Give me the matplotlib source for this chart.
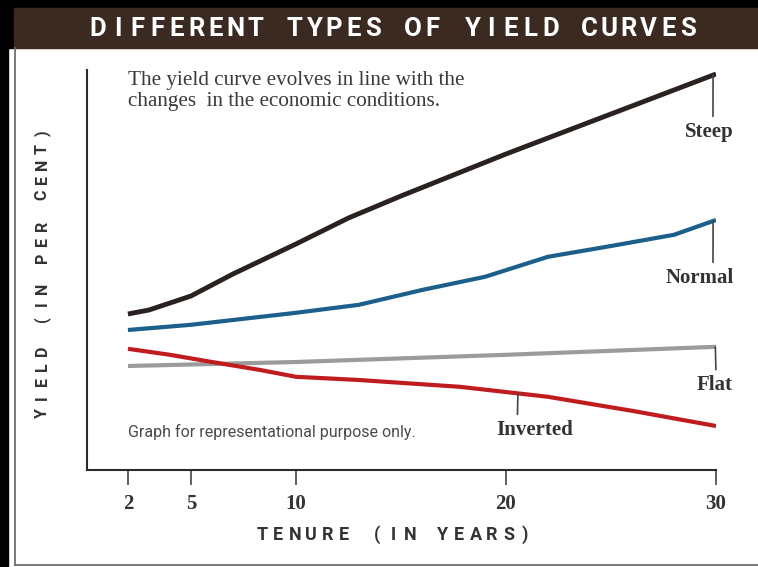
import matplotlib
matplotlib.use('Agg')
import matplotlib.pyplot as plt
import numpy as np
from matplotlib.patches import Rectangle
from matplotlib.lines import Line2D

W, H = 758, 567

# data (yield in arbitrary units)
tenureTicks = [2, 5, 10, 20, 30]
steepX = [2, 3, 5, 7, 10, 12.5, 15, 20, 25, 30]
steepY = [3.9, 4.0, 4.35, 4.9, 5.65, 6.3, 6.85, 7.9, 8.9, 9.9]
normalX = [2, 5, 10, 13, 16, 19, 22, 25, 28, 30]
normalY = [3.5, 3.63, 3.93, 4.13, 4.5, 4.83, 5.33, 5.6, 5.88, 6.25]
flatX = [2, 10, 20, 30]
flatY = [2.6, 2.7, 2.88, 3.08]
invertedX = [2, 4, 6, 8.3, 10, 13, 17.8, 22, 26, 30]
invertedY = [3.03, 2.88, 2.7, 2.5, 2.33, 2.25, 2.08, 1.83, 1.48, 1.1]

titleText = 'DIFFERENT TYPES OF YIELD CURVES'
xLabelText = 'TENURE (IN YEARS)'
yLabelText = 'YIELD (IN PER CENT)'
noteText = 'The yield curve evolves in line with the\nchanges  in the economic conditions.'
footText = 'Graph for representational purpose only.'

capsFont = dict(family='Roboto', weight='bold')
serifFont = 'Liberation Serif'
darkText = '#333333'


def px(x, y):
    # pixel position (from top left) -> figure fraction
    return x / W, 1 - y / H


def spacedText(fig, s, start, end, fixed, vertical=False, **kw):
    # letter-spaced caps, one glyph per slot
    pos = np.linspace(start, end, len(s))
    for ch, p in zip(s, pos):
        if ch == ' ':
            continue
        if vertical:
            fig.text(*px(fixed, p), ch, rotation=90, ha='center', va='center', **kw)
        else:
            fig.text(*px(p, fixed), ch, ha='center', va='center', **kw)


def fitWidth(fig, t, target):
    r = fig.canvas.get_renderer()
    w = t.get_window_extent(r).width
    t.set_fontsize(t.get_fontsize() * target / w)


def drawFrame(fig):
    fig.patches.append(Rectangle((0, 0), 8 / W, 1, transform=fig.transFigure, color='black', zorder=0))
    fig.patches.append(Rectangle(px(0, 8), 1, 8 / H, transform=fig.transFigure, color='black', zorder=0))
    fig.patches.append(Rectangle(px(8, 48), 6 / W, 40 / H, transform=fig.transFigure, color='black', zorder=0))
    fig.patches.append(Rectangle(px(14, 48), 1 - 14 / W, 40 / H, transform=fig.transFigure, color='#3b2a22', zorder=0))
    fig.lines.append(Line2D([15 / W, 15 / W], [1 - 48 / H, 1 - 565 / H], transform=fig.transFigure, color='#6e6e6e', lw=1.3))
    fig.lines.append(Line2D([15 / W, 1], [1 - 565 / H, 1 - 565 / H], transform=fig.transFigure, color='#6e6e6e', lw=1.3))
    spacedText(fig, titleText, 98, 688, 29, color='white', fontsize=18.5, **capsFont)


def plotCurves(ax):
    ax.plot(flatX, flatY, color='#9b9b9b', lw=3, solid_capstyle='butt', solid_joinstyle='round')
    ax.plot(invertedX, invertedY, color='#c01c20', lw=3, solid_capstyle='butt', solid_joinstyle='round')
    ax.plot(normalX, normalY, color='#1d5f8b', lw=3, solid_capstyle='butt', solid_joinstyle='round')
    ax.plot(steepX, steepY, color='#2a2220', lw=3.5, solid_capstyle='butt', solid_joinstyle='round')

    # name, series, x where the leader meets the curve, text centre, relpos
    labels = [
        ('Steep', steepX, steepY, 29.86, (29.67, 8.45), 0.58),
        ('Normal', normalX, normalY, 29.86, (29.24, 4.8), 0.69),
        ('Flat', flatX, flatY, 29.97, (29.95, 2.12), 0.53),
        ('Inverted', invertedX, invertedY, 20.57, (21.38, 1.0), 0.27),
    ]
    for name, xs, ys, xp, xyText, rel in labels:
        ax.annotate(name, xy=(xp, np.interp(xp, xs, ys)), xytext=xyText,
                    ha='center', va='center', fontsize=15, fontweight='bold',
                    family=serifFont, color=darkText, annotation_clip=False,
                    arrowprops=dict(arrowstyle='-', color='#444444', lw=1.2,
                                    shrinkA=2, shrinkB=0, relpos=(rel, 1)))


def main():
    fig = plt.figure(figsize=(W / 100, H / 100), dpi=100)
    fig.patch.set_facecolor('white')
    drawFrame(fig)

    ax = fig.add_axes([87 / W, 1 - 470 / H, (716 - 87) / W, 400 / H])
    ax.set_xlim(0.05, 30)
    ax.set_ylim(0, 10)
    ax.set_facecolor('none')
    for side in ['top', 'right']:
        ax.spines[side].set_visible(False)
    for side in ['left', 'bottom']:
        ax.spines[side].set_color('#2b2b2b')
        ax.spines[side].set_linewidth(1.5)
    ax.set_yticks([])
    ax.set_xticks(tenureTicks)
    ax.set_xticklabels([str(t) for t in tenureTicks])
    ax.tick_params(axis='x', direction='out', length=11, width=1.1, color='#333333',
                   pad=6, labelsize=15, labelcolor=darkText)
    for lab in ax.get_xticklabels():
        lab.set_family(serifFont)
        lab.set_fontweight('bold')

    plotCurves(ax)

    note = fig.text(*px(128, 91), noteText, ha='left', va='center', fontsize=15,
                    family=serifFont, color='#3a3a3a', linespacing=1.15)
    fitWidth(fig, note, 337)
    foot = fig.text(*px(128, 432), footText, ha='left', va='center', fontsize=11,
                    family='Roboto', color='#4a4a4a')
    fitWidth(fig, foot, 284)

    spacedText(fig, xLabelText, 262, 525, 535, color=darkText, fontsize=13, **capsFont)
    spacedText(fig, yLabelText, 413, 133, 42, vertical=True, color=darkText, fontsize=11.5, **capsFont)

    fig.savefig('out.png', dpi=100, facecolor='white')


if __name__ == '__main__':
    main()
